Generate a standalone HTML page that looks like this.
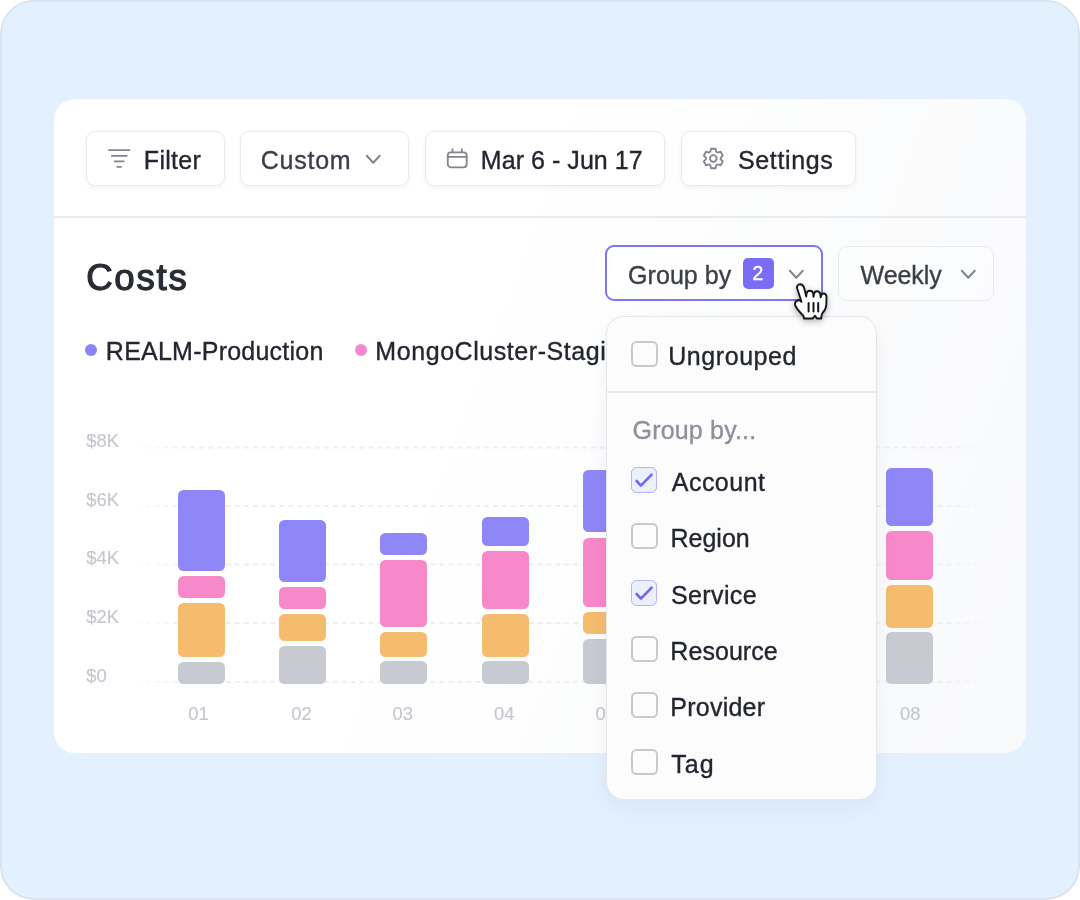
<!DOCTYPE html>
<html><head><meta charset="utf-8"><title>Costs</title>
<style>
html,body{margin:0;padding:0;background:#ffffff;}
body{width:1080px;height:900px;overflow:hidden;position:relative;font-family:"Liberation Sans",Arial,sans-serif;}
.frame{position:absolute;left:0;top:0;width:1080px;height:900px;box-sizing:border-box;border:2px solid #d8e4f1;border-radius:34px;background:#e3f0fd;}
.card{position:absolute;left:54px;top:99px;width:972px;height:654px;border-radius:21px;background:linear-gradient(110deg,#ffffff 0%,#ffffff 42%,#f8f9fb 100%);overflow:hidden;}
.t{position:absolute;white-space:nowrap;-webkit-text-stroke:0.35px currentColor;}
.ic{position:absolute;overflow:visible;}
.btn{position:absolute;box-sizing:border-box;border:1.8px solid #e9eaed;border-radius:9px;background:#fff;box-shadow:0 2px 5px rgba(20,25,40,0.05);}
.dd{position:absolute;left:605.6px;top:316px;width:271px;height:483.5px;box-sizing:border-box;border:1.5px solid #e6e7ea;border-radius:18px;background:#fcfcfd;box-shadow:0 8px 22px rgba(30,45,90,0.05), 0 0 5px rgba(30,45,90,0.025);overflow:hidden;}
</style></head><body>
<div class="frame"></div>
<div class="card">
<div class="btn" style="left:32.3px;top:32.30000000000001px;width:138.7px;height:54.8px;"></div>
<div class="btn" style="left:185.8px;top:32.30000000000001px;width:168.8px;height:54.8px;"></div>
<div class="btn" style="left:370.6px;top:32.30000000000001px;width:240.8px;height:54.8px;"></div>
<div class="btn" style="left:626.8px;top:32.30000000000001px;width:175px;height:54.8px;"></div>
<svg class="ic" style="left:52px;top:47px" width="28" height="26" viewBox="0 0 28 26">
<g stroke="#81848d" stroke-width="1.85" stroke-linecap="round" fill="none">
<path d="M3 4.1H23.6M5.8 9.8H20.7M8.7 15.3H17.7M11.3 20.9H15"/></g></svg>
<div class="t" style="left:89.85px;top:49.14px;font-size:25px;line-height:25px;color:#23262f;font-weight:400;letter-spacing:0.300px;">Filter</div>
<div class="t" style="left:206.70px;top:49.24px;font-size:25px;line-height:25px;color:#3b3e48;font-weight:400;letter-spacing:0.770px;">Custom</div>
<svg class="ic" style="left:310.3px;top:54.30000000000001px" width="18.5" height="12.5" viewBox="0 0 18.5 12.5"><path d="M2.8 2.8L9.25 9.7L15.7 2.8" stroke="#81848d" stroke-width="2" fill="none" stroke-linecap="round" stroke-linejoin="round"/></svg>
<svg class="ic" style="left:391px;top:48px" width="25" height="24" viewBox="0 0 25 24">
<g stroke="#81848d" stroke-width="1.8" fill="none" stroke-linecap="round" stroke-linejoin="round">
<rect x="2.8" y="5.3" width="18.9" height="15" rx="3"/><path d="M2.8 9.9H21.7M7.5 2.2V5.3M16.8 2.2V5.3"/></g></svg>
<div class="t" style="left:426.85px;top:49.24px;font-size:25px;line-height:25px;color:#23262f;font-weight:400;letter-spacing:0.050px;">Mar 6 - Jun 17</div>
<svg class="ic" style="left:647px;top:47px" width="25" height="25" viewBox="0 0 25 25">
<g stroke="#81848d" stroke-width="1.8" fill="none" stroke-linejoin="round">
<path d="M15.31 5.74 L14.55 2.76 L10.05 2.76 L9.29 5.74 L7.95 6.51 L4.99 5.68 L2.74 9.58 L4.94 11.73 L4.94 13.27 L2.74 15.42 L4.99 19.32 L7.95 18.49 L9.29 19.26 L10.05 22.24 L14.55 22.24 L15.31 19.26 L16.65 18.49 L19.61 19.32 L21.86 15.42 L19.66 13.27 L19.66 11.73 L21.86 9.58 L19.61 5.68 L16.65 6.51Z"/>
<circle cx="12.3" cy="12.5" r="3.3"/></g></svg>
<div class="t" style="left:683.90px;top:49.24px;font-size:25px;line-height:25px;color:#23262f;font-weight:400;letter-spacing:0.657px;">Settings</div>
<div style="position:absolute;left:0;top:117px;width:972px;height:2px;background:#e9eaec"></div>
<div class="t" style="left:32.15px;top:161.00px;font-size:36.5px;line-height:36.5px;color:#292c35;font-weight:400;-webkit-text-stroke:1.25px currentColor;letter-spacing:1.812px;">Costs</div>
<div class="btn" style="left:551.3px;top:146.2px;width:218px;height:55.9px;border:2px solid #7d74f7;box-shadow:none;border-radius:9px;background:rgba(255,255,255,0.5)"></div>
<div class="t" style="left:574.10px;top:163.74px;font-size:25px;line-height:25px;color:#3b3e48;font-weight:400;letter-spacing:0.043px;">Group by</div>
<div style="position:absolute;left:688.7px;top:158.8px;width:31px;height:31px;border-radius:5px;background:#7a6cf5"></div>
<div class="t" style="left:698.20px;top:163.77px;font-size:20px;line-height:20px;color:#ffffff;font-weight:400;">2</div>
<svg class="ic" style="left:733px;top:169px" width="18.5" height="12.5" viewBox="0 0 18.5 12.5"><path d="M2.8 2.8L9.25 9.7L15.7 2.8" stroke="#81848d" stroke-width="2" fill="none" stroke-linecap="round" stroke-linejoin="round"/></svg>
<div class="btn" style="left:784px;top:146.5px;width:155.5px;height:55.5px;box-shadow:none;background:rgba(255,255,255,0.25)"></div>
<div class="t" style="left:806.60px;top:163.74px;font-size:25px;line-height:25px;color:#3b3e48;font-weight:400;letter-spacing:-0.080px;">Weekly</div>
<svg class="ic" style="left:904.6px;top:169.2px" width="18.5" height="12.5" viewBox="0 0 18.5 12.5"><path d="M2.8 2.8L9.25 9.7L15.7 2.8" stroke="#81848d" stroke-width="2" fill="none" stroke-linecap="round" stroke-linejoin="round"/></svg>
<div style="position:absolute;left:31.299999999999997px;top:244.8px;width:12px;height:12px;border-radius:50%;background:#8b84f7"></div>
<div class="t" style="left:51.85px;top:240.04px;font-size:25px;line-height:25px;color:#23262f;font-weight:400;letter-spacing:0.237px;">REALM-Production</div>
<div style="position:absolute;left:301.4px;top:244.8px;width:12px;height:12px;border-radius:50%;background:#f587cb"></div>
<div class="t" style="left:321.35px;top:240.04px;font-size:25px;line-height:25px;color:#23262f;font-weight:400;letter-spacing:0.562px;">MongoCluster-Staging</div>
<svg class="ic" style="left:0;top:0" width="972" height="654" viewBox="54 99 972 654"><defs><linearGradient id="gf" gradientUnits="userSpaceOnUse" x1="128" x2="1000" y1="0" y2="0"><stop offset="0" stop-color="#eceef1" stop-opacity="0"/><stop offset="0.07" stop-color="#eceef1" stop-opacity="1"/><stop offset="0.93" stop-color="#eceef1" stop-opacity="1"/><stop offset="1" stop-color="#eceef1" stop-opacity="0"/></linearGradient></defs><line x1="128.1" x2="1000" y1="447.5" y2="447.5" stroke="url(#gf)" stroke-width="2" stroke-dasharray="4.8 4.1"/><line x1="128.1" x2="1000" y1="505.9" y2="505.9" stroke="url(#gf)" stroke-width="2" stroke-dasharray="4.8 4.1"/><line x1="128.1" x2="1000" y1="564.4" y2="564.4" stroke="url(#gf)" stroke-width="2" stroke-dasharray="4.8 4.1"/><line x1="128.1" x2="1000" y1="623.1" y2="623.1" stroke="url(#gf)" stroke-width="2" stroke-dasharray="4.8 4.1"/><line x1="128.1" x2="1000" y1="681.8" y2="681.8" stroke="url(#gf)" stroke-width="2" stroke-dasharray="4.8 4.1"/></svg>
<div class="t" style="left:32.20px;top:333.44px;font-size:18.5px;line-height:18.5px;color:#c4c7cf;font-weight:400;-webkit-text-stroke:0.15px currentColor;">$8K</div>
<div class="t" style="left:32.20px;top:391.84px;font-size:18.5px;line-height:18.5px;color:#c4c7cf;font-weight:400;-webkit-text-stroke:0.15px currentColor;">$6K</div>
<div class="t" style="left:32.20px;top:450.34px;font-size:18.5px;line-height:18.5px;color:#c4c7cf;font-weight:400;-webkit-text-stroke:0.15px currentColor;">$4K</div>
<div class="t" style="left:32.20px;top:509.04px;font-size:18.5px;line-height:18.5px;color:#c4c7cf;font-weight:400;-webkit-text-stroke:0.15px currentColor;">$2K</div>
<div class="t" style="left:32.20px;top:567.74px;font-size:18.5px;line-height:18.5px;color:#c4c7cf;font-weight:400;-webkit-text-stroke:0.15px currentColor;">$0</div>
<div style="position:absolute;left:124.0px;top:391.3px;width:47.3px;height:80.9px;border-radius:5.5px;background:#8f86f8"></div>
<div style="position:absolute;left:124.0px;top:477.1px;width:47.3px;height:22.3px;border-radius:5.5px;background:#f788c9"></div>
<div style="position:absolute;left:124.0px;top:504.0px;width:47.3px;height:53.6px;border-radius:5.5px;background:#f5bc6e"></div>
<div style="position:absolute;left:124.0px;top:562.5px;width:47.3px;height:22.2px;border-radius:5.5px;background:#c8cad2"></div>
<div class="t" style="left:110.9px;width:67.3px;text-align:center;top:605.6px;font-size:18.4px;line-height:18.4px;color:#c4c7cf;-webkit-text-stroke:0.15px currentColor">01</div>
<div style="position:absolute;left:225.1px;top:420.6px;width:47.3px;height:62.6px;border-radius:5.5px;background:#8f86f8"></div>
<div style="position:absolute;left:225.1px;top:488.1px;width:47.3px;height:22.0px;border-radius:5.5px;background:#f788c9"></div>
<div style="position:absolute;left:225.1px;top:515.0px;width:47.3px;height:26.9px;border-radius:5.5px;background:#f5bc6e"></div>
<div style="position:absolute;left:225.1px;top:546.8px;width:47.3px;height:37.9px;border-radius:5.5px;background:#c8cad2"></div>
<div class="t" style="left:213.8px;width:67.3px;text-align:center;top:605.6px;font-size:18.4px;line-height:18.4px;color:#c4c7cf;-webkit-text-stroke:0.15px currentColor">02</div>
<div style="position:absolute;left:326.1px;top:434.1px;width:47.3px;height:22.4px;border-radius:5.5px;background:#8f86f8"></div>
<div style="position:absolute;left:326.1px;top:461.3px;width:47.3px;height:67.2px;border-radius:5.5px;background:#f788c9"></div>
<div style="position:absolute;left:326.1px;top:533.0px;width:47.3px;height:24.8px;border-radius:5.5px;background:#f5bc6e"></div>
<div style="position:absolute;left:326.1px;top:562.3px;width:47.3px;height:22.3px;border-radius:5.5px;background:#c8cad2"></div>
<div class="t" style="left:315.2px;width:67.3px;text-align:center;top:605.6px;font-size:18.4px;line-height:18.4px;color:#c4c7cf;-webkit-text-stroke:0.15px currentColor">03</div>
<div style="position:absolute;left:427.5px;top:418.1px;width:47.3px;height:29.3px;border-radius:5.5px;background:#8f86f8"></div>
<div style="position:absolute;left:427.5px;top:452.2px;width:47.3px;height:58.1px;border-radius:5.5px;background:#f788c9"></div>
<div style="position:absolute;left:427.5px;top:515.1px;width:47.3px;height:42.7px;border-radius:5.5px;background:#f5bc6e"></div>
<div style="position:absolute;left:427.5px;top:562.3px;width:47.3px;height:22.3px;border-radius:5.5px;background:#c8cad2"></div>
<div class="t" style="left:416.6px;width:67.3px;text-align:center;top:605.6px;font-size:18.4px;line-height:18.4px;color:#c4c7cf;-webkit-text-stroke:0.15px currentColor">04</div>
<div style="position:absolute;left:528.8px;top:371.1px;width:47.3px;height:62.4px;border-radius:5.5px;background:#8f86f8"></div>
<div style="position:absolute;left:528.8px;top:438.9px;width:47.3px;height:69.3px;border-radius:5.5px;background:#f788c9"></div>
<div style="position:absolute;left:528.8px;top:513.0px;width:47.3px;height:21.9px;border-radius:5.5px;background:#f5bc6e"></div>
<div style="position:absolute;left:528.8px;top:539.7px;width:47.3px;height:44.9px;border-radius:5.5px;background:#c8cad2"></div>
<div class="t" style="left:518.0px;width:67.3px;text-align:center;top:605.6px;font-size:18.4px;line-height:18.4px;color:#c4c7cf;-webkit-text-stroke:0.15px currentColor">05</div>
<div style="position:absolute;left:630.0px;top:381.0px;width:47.3px;height:60.0px;border-radius:5.5px;background:#8f86f8"></div>
<div style="position:absolute;left:630.0px;top:446.0px;width:47.3px;height:45.0px;border-radius:5.5px;background:#f788c9"></div>
<div style="position:absolute;left:630.0px;top:496.0px;width:47.3px;height:35.0px;border-radius:5.5px;background:#f5bc6e"></div>
<div style="position:absolute;left:630.0px;top:536.0px;width:47.3px;height:48.6px;border-radius:5.5px;background:#c8cad2"></div>
<div class="t" style="left:619.0px;width:67.3px;text-align:center;top:605.6px;font-size:18.4px;line-height:18.4px;color:#c4c7cf;-webkit-text-stroke:0.15px currentColor">06</div>
<div style="position:absolute;left:731.0px;top:381.0px;width:47.3px;height:60.0px;border-radius:5.5px;background:#8f86f8"></div>
<div style="position:absolute;left:731.0px;top:446.0px;width:47.3px;height:45.0px;border-radius:5.5px;background:#f788c9"></div>
<div style="position:absolute;left:731.0px;top:496.0px;width:47.3px;height:35.0px;border-radius:5.5px;background:#f5bc6e"></div>
<div style="position:absolute;left:731.0px;top:536.0px;width:47.3px;height:48.6px;border-radius:5.5px;background:#c8cad2"></div>
<div class="t" style="left:720.0px;width:67.3px;text-align:center;top:605.6px;font-size:18.4px;line-height:18.4px;color:#c4c7cf;-webkit-text-stroke:0.15px currentColor">07</div>
<div style="position:absolute;left:832.2px;top:368.8px;width:47.3px;height:58.5px;border-radius:5.5px;background:#8f86f8"></div>
<div style="position:absolute;left:832.2px;top:431.9px;width:47.3px;height:49.5px;border-radius:5.5px;background:#f788c9"></div>
<div style="position:absolute;left:832.2px;top:486.0px;width:47.3px;height:42.8px;border-radius:5.5px;background:#f5bc6e"></div>
<div style="position:absolute;left:832.2px;top:533.4px;width:47.3px;height:51.3px;border-radius:5.5px;background:#c8cad2"></div>
<div class="t" style="left:822.5px;width:67.3px;text-align:center;top:605.6px;font-size:18.4px;line-height:18.4px;color:#c4c7cf;-webkit-text-stroke:0.15px currentColor">08</div>
</div>
<div class="dd">
<div style="position:absolute;left:24.699999999999932px;top:23.80000000000001px;width:26.3px;height:26.3px;box-sizing:border-box;border:2.1px solid #c8cad1;border-radius:5.5px"></div>
<div class="t" style="left:61.65px;top:27.04px;font-size:25px;line-height:25px;color:#23262f;font-weight:400;letter-spacing:0.562px;">Ungrouped</div>
<div style="position:absolute;left:0;top:74.0px;width:100%;height:2px;background:#e8e9ec"></div>
<div class="t" style="left:26.00px;top:101.14px;font-size:25px;line-height:25px;color:#8d909a;font-weight:400;letter-spacing:0.175px;">Group by...</div>
<div style="position:absolute;left:24.699999999999932px;top:149.5px;width:26px;height:26px;box-sizing:border-box;border:1.6px solid #b7b1f9;border-radius:5.5px;background:#eaf0fc"></div><svg class="ic" style="left:24.699999999999932px;top:149.5px" width="26" height="26" viewBox="0 0 26 26"><path d="M5.6 14L9.9 18.6L20.6 7.6" stroke="#7465f2" stroke-width="2.6" fill="none" stroke-linecap="round" stroke-linejoin="round"/></svg>
<div class="t" style="left:65.15px;top:152.94px;font-size:25px;line-height:25px;color:#23262f;font-weight:400;letter-spacing:0.483px;">Account</div>
<div style="position:absolute;left:24.699999999999932px;top:206.0px;width:26.3px;height:26.3px;box-sizing:border-box;border:2.1px solid #c8cad1;border-radius:5.5px"></div>
<div class="t" style="left:63.85px;top:209.44px;font-size:25px;line-height:25px;color:#23262f;font-weight:400;letter-spacing:0.020px;">Region</div>
<div style="position:absolute;left:24.699999999999932px;top:262.5px;width:26px;height:26px;box-sizing:border-box;border:1.6px solid #b7b1f9;border-radius:5.5px;background:#eaf0fc"></div><svg class="ic" style="left:24.699999999999932px;top:262.5px" width="26" height="26" viewBox="0 0 26 26"><path d="M5.6 14L9.9 18.6L20.6 7.6" stroke="#7465f2" stroke-width="2.6" fill="none" stroke-linecap="round" stroke-linejoin="round"/></svg>
<div class="t" style="left:64.30px;top:265.74px;font-size:25px;line-height:25px;color:#23262f;font-weight:400;letter-spacing:0.400px;">Service</div>
<div style="position:absolute;left:24.699999999999932px;top:318.70000000000005px;width:26.3px;height:26.3px;box-sizing:border-box;border:2.1px solid #c8cad1;border-radius:5.5px"></div>
<div class="t" style="left:63.75px;top:322.04px;font-size:25px;line-height:25px;color:#23262f;font-weight:400;letter-spacing:0.050px;">Resource</div>
<div style="position:absolute;left:24.699999999999932px;top:375.0px;width:26.3px;height:26.3px;box-sizing:border-box;border:2.1px solid #c8cad1;border-radius:5.5px"></div>
<div class="t" style="left:63.75px;top:378.44px;font-size:25px;line-height:25px;color:#23262f;font-weight:400;letter-spacing:0.229px;">Provider</div>
<div style="position:absolute;left:24.699999999999932px;top:431.5px;width:26.3px;height:26.3px;box-sizing:border-box;border:2.1px solid #c8cad1;border-radius:5.5px"></div>
<div class="t" style="left:64.70px;top:434.74px;font-size:25px;line-height:25px;color:#23262f;font-weight:400;letter-spacing:1.075px;">Tag</div>
</div>
<svg class="ic" style="left:790px;top:278.6px;filter:drop-shadow(0 2px 3px rgba(0,0,0,0.3))" width="42" height="44" viewBox="0 0 42 44">
<path d="M11.5 22.8L7.2 9.5C6.5 7 8 5.3 10 5.3C12 5.3 13.3 6.5 14 8.5L16.3 17.5L16.5 14.5C16.8 12.5 18.3 11.8 20 11.8C21.8 11.8 22.8 13 23.2 14.5L23.5 17.8L24 15C24.4 13 25.8 12.2 27.3 12.3C29 12.5 30.2 13.8 30.4 15.5L30.6 18.3C31 15.5 32.3 14.3 34 14.5C35.8 14.8 36.5 16.2 36.5 18L36.3 26C36 30 34.5 32 32.5 34C31.5 35.2 31.3 37 31.3 39.5L27 39.5L25 36.8L22.5 39.5L14 39.5L13.5 37C10 33.5 7 30 5.5 27C4.5 25 4.8 22.5 7.5 21.5C9 21 10.5 21.5 11.5 22.8Z" fill="#fff" stroke="#15161a" stroke-width="1.9" stroke-linejoin="round"/>
<path d="M18.6 24V32.5M23.5 24V32.5M28.2 24V32.5" stroke="#15161a" stroke-width="2" stroke-linecap="round"/></svg>
</body></html>
